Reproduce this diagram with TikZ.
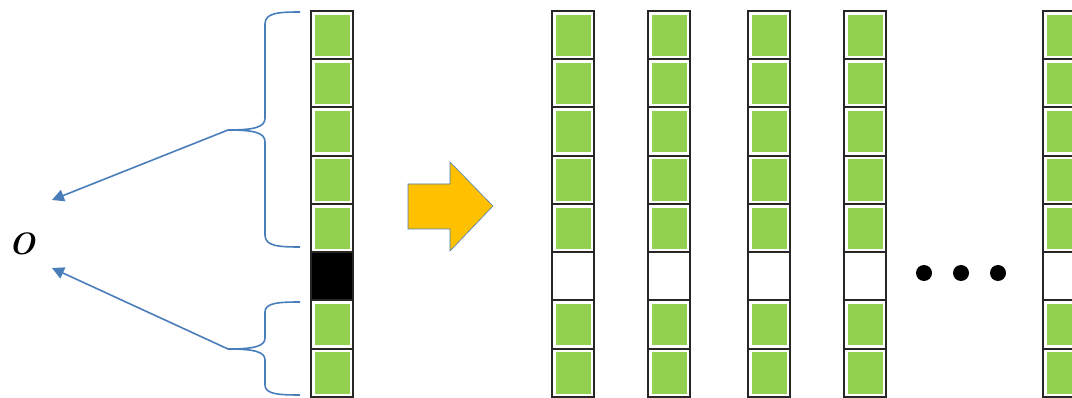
\documentclass[tikz,border=0pt]{standalone}
\usetikzlibrary{arrows.meta}
\definecolor{cellgreen}{HTML}{92D050}
\definecolor{lineblue}{HTML}{4A7EBB}
\definecolor{arrowyellow}{HTML}{FFC000}
\begin{document}
\begin{tikzpicture}[x=1pt,y=-1pt,
  cellbox/.style={draw=black!85,line width=2pt,fill=white},
  greenbox/.style={fill=cellgreen,draw=white,line width=0.8pt},
  bracestyle/.style={draw=lineblue,line width=1.6pt},
  conn/.style={draw=lineblue,line width=1.6pt,-{Triangle[length=12pt,width=12pt]}},
  dotstyle/.style={fill=black,circle,inner sep=0pt,minimum size=16pt}]
\useasboundingbox (0,0) rectangle (1072,398);
% columns
\newcommand{\mycolumn}[3]{%
  \foreach \i in {0,...,7}{
    \pgfmathsetmacro{\ya}{11+\i*48.25}
    \pgfmathsetmacro{\yb}{11+(\i+1)*48.25}
    \ifnum\i=5
      \path[cellbox,fill=#2] (#1,\ya) rectangle (#1+42,\yb);
    \else
      \path[cellbox] (#1,\ya) rectangle (#1+42,\yb);
      \path[greenbox] (#1+3,\ya+3) rectangle (#1+39,\yb-3);
    \fi
  }}
\mycolumn{311}{black}{}
\mycolumn{552}{white}{}
\mycolumn{648}{white}{}
\mycolumn{748}{white}{}
\mycolumn{844}{white}{}
\mycolumn{1043}{white}{}
% braces
\coordinate (tipA) at (228,130);
\coordinate (tipB) at (228,349);
\path[bracestyle] (300,12) .. controls (278,12) and (265,13) .. (265,24)
  -- (265,118) .. controls (265,127) and (255,130) .. (tipA)
  .. controls (255,130) and (265,133) .. (265,142)
  -- (265,235) .. controls (265,246) and (278,247) .. (300,247);
\path[bracestyle] (300,302) .. controls (278,302) and (265,303) .. (265,312)
  -- (265,338) .. controls (265,346) and (255,349) .. (tipB)
  .. controls (255,349) and (265,352) .. (265,360)
  -- (265,385) .. controls (265,394) and (278,395) .. (300,395);
% O label
\node[font=\fontsize{31}{37}\selectfont\bfseries\itshape,inner sep=0pt] (O) at (22,244) {O};
\coordinate (endA) at (52,200);
\coordinate (endB) at (52,268);
\draw[conn] (tipA) -- (endA);
\draw[conn] (tipB) -- (endB);
% yellow block arrow
\path[fill=arrowyellow,draw=lineblue,line width=0.6pt]
  (408,184) -- (450,184) -- (450,162) -- (493,206) -- (450,251) -- (450,229) -- (408,229) -- cycle;
% dots
\node[dotstyle] (d1) at (924,273) {};
\node[dotstyle] (d2) at (961,273) {};
\node[dotstyle] (d3) at (998,273) {};
\end{tikzpicture}
\end{document}
